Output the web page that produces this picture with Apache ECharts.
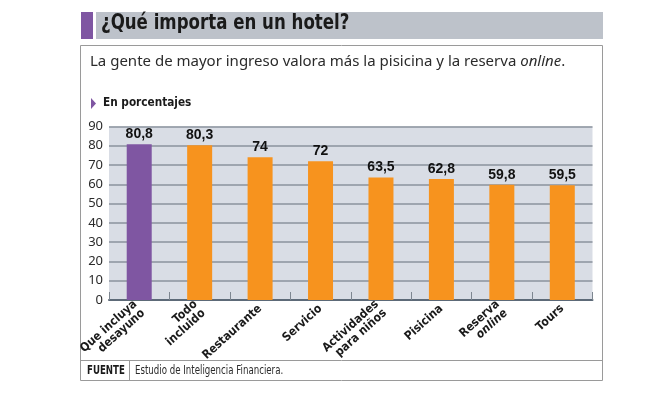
<!DOCTYPE html>
<html>
<head>
<meta charset="utf-8">
<script src="https://cdn.jsdelivr.net/npm/echarts@6/dist/echarts.min.js"></script>
<style>
  html, body { margin: 0; padding: 0; background: #fff; }
  #chart { width: 653px; height: 398px; }
</style>
</head>
<body>
<div id="chart"></div>
<script>
// datos del gráfico
var categories = ['Que incluya\ndesayuno', 'Todo\nincluido', 'Restaurante', 'Servicio',
  'Actividades\npara niños', 'Pisicina', 'Reserva\n{i|online}', 'Tours']
var values = [80.8, 80.3, 74, 72, 63.5, 62.8, 59.8, 59.5]
var yTicks = [0, 10, 20, 30, 40, 50, 60, 70, 80, 90]

var narrow = '"DejaVu Sans Condensed", "DejaVu Sans", sans-serif'
var purple = '#7f56a2'
var orange = '#f7931e'

var chart = echarts.init(document.getElementById('chart'))

chart.setOption({
  backgroundColor: '#fff',
  animation: false,
  graphic: [
    // barra de título
    { type: 'rect', shape: { x: 81, y: 12, width: 12, height: 27 }, style: { fill: purple } },
    { type: 'rect', shape: { x: 96, y: 12, width: 507, height: 27 }, style: { fill: '#bdc2ca' } },
    {
      type: 'text', x: 101, y: 13, scaleX: 0.88,
      style: { text: '¿Qué importa en un hotel?', font: 'bold 21px ' + narrow, fill: '#1a1a1a' }
    },
    // caja
    { type: 'rect', shape: { x: 80.5, y: 45.5, width: 522, height: 335 }, style: { fill: 'none', stroke: '#9a9a9a', lineWidth: 1 } },
    { type: 'line', shape: { x1: 81, y1: 360.5, x2: 602, y2: 360.5 }, style: { stroke: '#9a9a9a', lineWidth: 1 } },
    { type: 'line', shape: { x1: 129.5, y1: 361, x2: 129.5, y2: 380 }, style: { stroke: '#9a9a9a', lineWidth: 1 } },
    {
      type: 'text', left: 90, top: 54,
      style: {
        text: 'La gente de mayor ingreso valora más la pisicina y la reserva {i|online}.',
        font: '15px "Noto Sans", sans-serif', fill: '#2b2b2b',
        rich: { i: { fontStyle: 'italic', fontSize: 15, fontFamily: 'Noto Sans', fill: '#2b2b2b' } }
      }
    },
    // subtítulo
    { type: 'polygon', shape: { points: [[91, 98], [91, 109], [96, 103.5]] }, style: { fill: purple } },
    {
      type: 'text', x: 103, y: 96, scaleX: 0.9,
      style: { text: 'En porcentajes', font: 'bold 13px ' + narrow, fill: '#1a1a1a' }
    },
    // fuente
    {
      type: 'text', x: 87, y: 365, scaleX: 0.8,
      style: { text: 'FUENTE', font: 'bold 12px ' + narrow, fill: '#1a1a1a' }
    },
    {
      type: 'text', x: 135, y: 365, scaleX: 0.8,
      style: { text: 'Estudio de Inteligencia Financiera.', font: '12px ' + narrow, fill: '#2b2b2b' }
    }
  ],
  grid: {
    left: 109, right: 60.5, top: 126.5, bottom: 98,
    show: true, backgroundColor: '#d9dde5', borderWidth: 0
  },
  xAxis: {
    type: 'category',
    data: categories,
    axisLine: { lineStyle: { color: '#5d6a78', width: 2 } },
    axisTick: { show: true, inside: true, length: 8, lineStyle: { color: '#7d8690', width: 1 } },
    axisLabel: {
      interval: 0, rotate: 42, margin: 7,
      fontFamily: 'DejaVu Sans Condensed', fontWeight: 'bold', fontSize: 12, color: '#1a1a1a',
      lineHeight: 12,
      rich: { i: { fontStyle: 'italic', fontWeight: 'bold', fontFamily: 'DejaVu Sans Condensed', fontSize: 12, color: '#1a1a1a' } }
    }
  },
  yAxis: {
    type: 'value',
    min: 0, max: 90, interval: 10,
    axisLine: { show: false },
    axisTick: { show: false },
    axisLabel: {
      margin: 6, fontFamily: 'Noto Sans', fontSize: 13, color: '#2b2b2b',
      formatter: function (v) { return yTicks.indexOf(v) >= 0 ? String(v) : '' }
    },
    splitLine: { lineStyle: { color: '#8a929c', width: 1.5 } }
  },
  series: [{
    type: 'bar',
    data: values.map(function (v, i) {
      return { value: v, itemStyle: { color: i === 0 ? purple : orange } }
    }),
    barWidth: 25,
    label: {
      show: true, position: 'top', distance: 3,
      fontFamily: 'Liberation Sans', fontWeight: 'bold', fontSize: 14, color: '#111',
      formatter: function (p) { return String(p.value).replace('.', ',') }
    }
  }]
})
</script>
</body>
</html>
